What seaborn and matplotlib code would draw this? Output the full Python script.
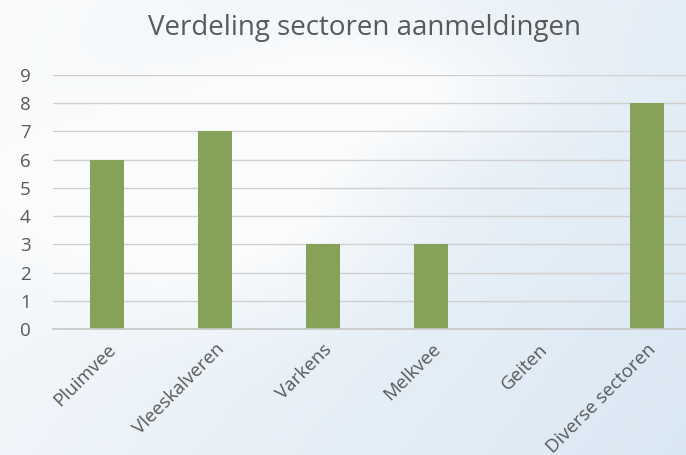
import numpy as np
import pandas as pd
import seaborn as sns
from matplotlib import pyplot as plt

# Data
sectors = ["Pluimvee", "Vleeskalveren", "Varkens", "Melkvee", "Geiten", "Diverse sectoren"]
counts = [6, 7, 3, 3, 0, 8]
title = "Verdeling sectoren aanmeldingen"

df = pd.DataFrame({"sector": sectors, "aantal": counts})

sns.set_theme(style="white")
plt.rcParams["font.family"] = ["Open Sans", "DejaVu Sans"]

fig = plt.figure(figsize=(6.86, 4.55), dpi=100)

# Light sky background
bg = fig.add_axes([0, 0, 1, 1], zorder=-1)
yy, xx = np.mgrid[0:1:200j, 0:1:300j]
base = 0.6 * xx + 0.3 * yy
blob = np.exp(-((xx - 0.3) ** 2 / 0.06 + (yy - 0.45) ** 2 / 0.04))
blob += 0.8 * np.exp(-((xx - 0.55) ** 2 / 0.05 + (yy - 0.2) ** 2 / 0.02))
t = np.clip(base - 0.6 * blob, 0, 1)
c0 = np.array([0.98, 0.985, 0.99])
c1 = np.array([0.84, 0.90, 0.95])
img = c0 + t[..., None] * (c1 - c0)
bg.imshow(img, aspect="auto", extent=[0, 1, 0, 1])
bg.axis("off")

ax = fig.add_axes([53 / 686, 1 - 329 / 455, 648 / 686, 254 / 455])
ax.patch.set_alpha(0)
sns.barplot(data=df, x="sector", y="aantal", color="#86a25a", width=0.315,
            saturation=1, linewidth=0, ax=ax)

ax.set_ylim(0, 9)
ax.set_yticks(range(0, 10))
ax.yaxis.grid(True, color="#d0d0d0", linewidth=1)
ax.set_axisbelow(True)
for s in ["top", "right", "left"]:
    ax.spines[s].set_visible(False)
ax.spines["bottom"].set_color("#c8c8c8")
ax.tick_params(axis="both", length=0, labelsize=13.5, labelcolor="#595959")
ax.tick_params(axis="y", pad=16)
ax.tick_params(axis="x", pad=8)
ax.set_xticks(range(len(sectors)))
ax.set_xticklabels(sectors, rotation=45, ha="right", rotation_mode="anchor")
ax.set_xlabel("")
ax.set_ylabel("")

fig.text(0.531, 0.938, title, ha="center", va="center", fontsize=20, color="#595959")

plt.savefig("out.png", dpi=100)
